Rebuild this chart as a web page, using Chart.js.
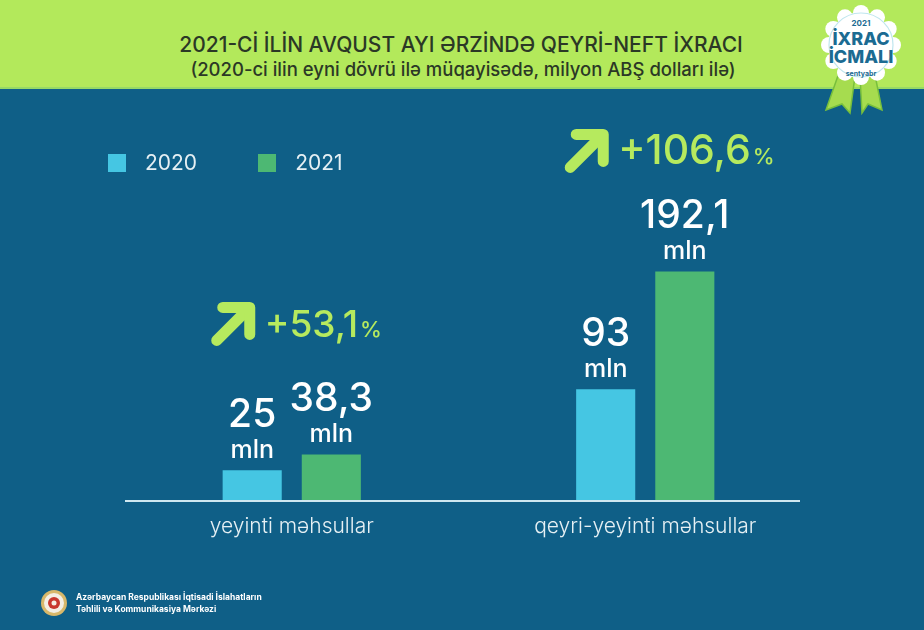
<!DOCTYPE html>
<html>
<head>
<meta charset="utf-8">
<script src="https://cdn.jsdelivr.net/npm/chart.js@4.4.0/dist/chart.umd.min.js"></script>
<style>
  body { margin: 0; width: 924px; height: 630px; background: #0f5f87; overflow: hidden; position: relative; font-family: Inter, "Open Sans", sans-serif; }
  .faixa { position: absolute; left: 0; top: 0; width: 924px; height: 87px; background: #b3e95b; border-bottom: 2px solid #96d966; }
  .titulo { position: absolute; left: 0; width: 924px; text-align: center; color: #2b3826; }
  #t1 { left: -1px; top: 32px; font-size: 21px; font-weight: 500; }
  #t2 { left: 1px; top: 58px; font-size: 18.5px; font-weight: 500; }
  #grafico { position: absolute; left: 0; top: 0; }
  #legenda { position: absolute; left: 108px; top: 150px; display: flex; align-items: center; color: #e6f0f4; font-size: 21px; }
  #legenda .item { display: flex; align-items: center; margin-right: 61px; }
  #legenda .cor { width: 18px; height: 18px; margin-right: 19px; }
  #selo { position: absolute; left: 808px; top: 0; }
  #rodape { position: absolute; left: 40px; top: 589px; display: flex; align-items: center; color: #ffffff; font-size: 8.5px; font-weight: 700; line-height: 12px; }
</style>
</head>
<body>
<div class="faixa"></div>
<div class="titulo" id="t1">2021-Cİ İLİN AVQUST AYI ƏRZİNDƏ QEYRİ-NEFT İXRACI</div>
<div class="titulo" id="t2">(2020-ci ilin eyni dövrü ilə müqayisədə, milyon ABŞ dolları ilə)</div>

<svg id="selo" width="110" height="120" viewBox="808 0 110 120">
  <polygon points="840,70 855,76 850,113 842,104 826,110" fill="#a6dc4f" stroke="#78bf3c" stroke-width="1.5"/>
  <polygon points="860,76 874,70 882,110 868,104 862,113" fill="#a6dc4f" stroke="#78bf3c" stroke-width="1.5"/>
  <g id="roseta" fill="#ffffff"></g>
  <circle cx="861" cy="45" r="32" fill="none" stroke="#bfe6ee" stroke-width="1.2"/>
  <text x="861" y="26" text-anchor="middle" font-size="8" font-weight="700" fill="#1b6b92">2021</text>
  <text x="861" y="45" text-anchor="middle" font-size="18" font-weight="800" fill="#1b6b92">İXRAC</text>
  <text x="861" y="63" text-anchor="middle" font-size="18" font-weight="800" fill="#1b6b92">İCMALI</text>
  <text x="861" y="76" text-anchor="middle" font-size="7" font-weight="700" fill="#1b6b92">sentyabr</text>
</svg>

<canvas id="grafico" width="924" height="630"></canvas>
<div id="legenda"></div>

<div id="rodape">
  <svg width="28" height="28" viewBox="0 0 28 28" style="margin-right:8px">
    <circle cx="14" cy="14" r="13" fill="#d8b86a"/>
    <circle cx="14" cy="14" r="10" fill="#f4efe4"/>
    <circle cx="14" cy="14" r="6" fill="#c8382e"/>
    <circle cx="14" cy="14" r="2.5" fill="#f4efe4"/>
  </svg>
  <div>Azərbaycan Respublikası İqtisadi İslahatların<br>Təhlili və Kommunikasiya Mərkəzi</div>
</div>

<script>
// dados do gráfico
const categorias = ['yeyinti məhsullar', 'qeyri-yeyinti məhsullar'];
const anos = ['2020', '2021'];
const valores2020 = [25, 93];
const valores2021 = [38.3, 192.1];
const crescimento = [53.1, 106.6];

const cores = ['#45c6e3', '#4db873'];
const verdeClaro = '#b6ea5e';

// roseta do selo
const roseta = document.getElementById('roseta');
let svgRoseta = '<circle cx="861" cy="45" r="33"/>';
for (let k = 0; k < 12; k++) {
  const a = k * Math.PI / 6;
  svgRoseta += '<circle cx="' + (861 + 32 * Math.cos(a)) + '" cy="' + (45 + 32 * Math.sin(a)) + '" r="8"/>';
}
roseta.innerHTML = svgRoseta;

function formatar(v) {
  return String(v).replace('.', ',');
}

// rótulos de valor e setas de crescimento
const rotulos = {
  id: 'rotulos',
  beforeDatasetsDraw(chart) {
    const ctx = chart.ctx;
    const area = chart.chartArea;
    const y = chart.scales.y.getPixelForValue(0);
    ctx.save();
    ctx.strokeStyle = '#cfe8f1';
    ctx.lineWidth = 2;
    ctx.beginPath();
    ctx.moveTo(area.left + 10, y + 1);
    ctx.lineTo(area.right - 22, y + 1);
    ctx.stroke();
    ctx.restore();
  },
  afterDatasetsDraw(chart) {
    const ctx = chart.ctx;
    ctx.save();
    ctx.textAlign = 'center';
    ctx.fillStyle = '#ffffff';
    chart.data.datasets.forEach((ds, i) => {
      chart.getDatasetMeta(i).data.forEach((barra, j) => {
        ctx.font = '500 39px Inter';
        ctx.fillText(formatar(ds.data[j]), barra.x, barra.y - 43);
        ctx.font = '500 25px Inter';
        ctx.fillText('mln', barra.x, barra.y - 12);
      });
    });

    const distancias = [117, 107];
    const tamanhos = [37, 41];
    const m0 = chart.getDatasetMeta(0).data;
    const m1 = chart.getDatasetMeta(1).data;
    crescimento.forEach((c, j) => {
      const centro = (m0[j].x + m1[j].x) / 2;
      const base = m1[j].y - distancias[j];
      const x0 = centro - 82;
      const cy = base - 14;
      // seta
      ctx.strokeStyle = verdeClaro;
      ctx.lineWidth = 11;
      ctx.lineCap = 'round';
      ctx.lineJoin = 'round';
      ctx.beginPath();
      ctx.moveTo(x0 + 7, cy + 17);
      ctx.lineTo(x0 + 38, cy - 14);
      ctx.stroke();
      ctx.beginPath();
      ctx.moveTo(x0 + 13, cy - 16);
      ctx.lineTo(x0 + 40, cy - 16);
      ctx.lineTo(x0 + 40, cy + 11);
      ctx.stroke();
      // texto
      ctx.fillStyle = verdeClaro;
      ctx.textAlign = 'left';
      ctx.font = '500 ' + tamanhos[j] + 'px Inter';
      const txt = '+' + formatar(c);
      ctx.fillText(txt, x0 + 55, base);
      const w = ctx.measureText(txt).width;
      ctx.font = '500 22px Inter';
      ctx.fillText('%', x0 + 57 + w, base);
    });
    ctx.restore();
  }
};

const grafico = new Chart(document.getElementById('grafico'), {
  type: 'bar',
  data: {
    labels: categorias,
    datasets: [
      { label: anos[0], data: valores2020, backgroundColor: cores[0] },
      { label: anos[1], data: valores2021, backgroundColor: cores[1] }
    ]
  },
  options: {
    responsive: false,
    animation: false,
    devicePixelRatio: 1,
    layout: { padding: { left: 115, right: 102, top: 143, bottom: 90 } },
    datasets: { bar: { categoryPercentage: 0.4476, barPercentage: 0.747 } },
    scales: {
      x: {
        grid: { display: false, drawTicks: false, tickLength: 0 },
        border: { display: false },
        ticks: { color: '#e6f0f4', font: { family: 'Inter', size: 21, weight: '300' }, padding: 14 },
        afterFit(scale) { scale.height = 40; }
      },
      y: { display: false, min: 0, max: 300 }
    },
    plugins: {
      legend: { display: false },
      tooltip: { enabled: false }
    }
  },
  plugins: [rotulos]
});

// legenda feita em html
const legenda = document.getElementById('legenda');
grafico.data.datasets.forEach(ds => {
  legenda.innerHTML += '<div class="item"><div class="cor" style="background:' + ds.backgroundColor + '"></div>' + ds.label + '</div>';
});
</script>
</body>
</html>
